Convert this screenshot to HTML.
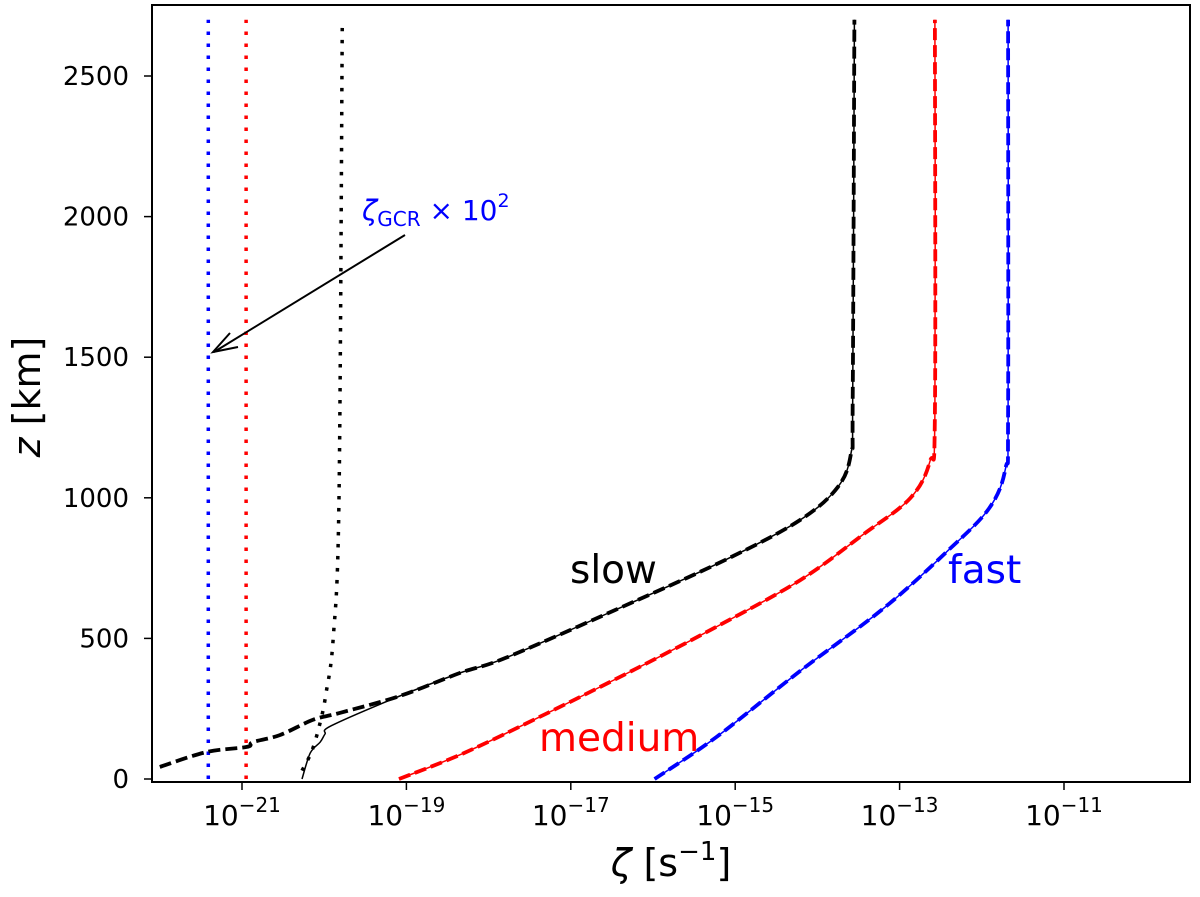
<!DOCTYPE html>
<html><head><meta charset="utf-8"><style>
html,body{margin:0;padding:0;background:#fff;}
svg{display:block;font-family:"DejaVu Sans","Liberation Sans",sans-serif;}
</style></head><body>
<svg id="chart" width="1200" height="897" viewBox="0 0 1200 897" xmlns="http://www.w3.org/2000/svg">
<g id="plot"></g>
<g id="axes"></g>
<text transform="translate(40,397) rotate(-90)" text-anchor="middle" font-size="38"><tspan font-style="italic">z</tspan> [km]</text>
<text x="671" y="876" text-anchor="middle" font-size="38"><tspan font-style="italic">ζ</tspan> [s<tspan dy="-16" font-size="26">−1</tspan><tspan dy="16">]</tspan></text>
<text x="570" y="583" font-size="39" fill="#000">slow</text>
<text x="539" y="751" font-size="39" fill="#f00">medium</text>
<text x="948" y="583" font-size="39" fill="#00f">fast</text>
<text x="362" y="220" font-size="28" fill="#00f"><tspan font-style="italic">ζ</tspan><tspan font-size="20" dy="6">GCR</tspan><tspan dy="-6"> × 10</tspan><tspan font-size="19" dy="-13">2</tspan></text>
<g stroke="#000" stroke-width="2" fill="none">
<line x1="405" y1="235" x2="214" y2="352"/>
<polyline points="230,333 213,352 238,347"/>
</g>
</svg>
<script>
const xTickExps=[-21,-19,-17,-15,-13,-11];
const yTicks=[0,500,1000,1500,2000,2500];
const slowZ=[43,96,114,131,156,210,235,295,377,431,601,779,921,1039,1160,1350,2700];
const slowLog=[-22.00,-21.43,-20.94,-20.87,-20.54,-20.14,-19.81,-19.08,-18.35,-17.79,-16.46,-15.12,-14.21,-13.75,-13.59,-13.57,-13.55];
const slowSolidZ=[0,92,131,160,190,295,377,431,601,779,921,1039,1160,1350,2700];
const slowSolidLog=[-20.27,-20.17,-20.05,-19.99,-19.91,-19.08,-18.35,-17.79,-16.46,-15.12,-14.21,-13.75,-13.59,-13.57,-13.55];
const mediumZ=[0,92,235,384,541,707,868,999,1130,1300,2700];
const mediumLog=[-19.09,-18.30,-17.28,-16.26,-15.23,-14.21,-13.45,-12.87,-12.63,-12.57,-12.57];
const fastZ=[0,149,384,608,810,963,1106,1300,2700];
const fastLog=[-15.98,-15.23,-14.21,-13.19,-12.42,-11.91,-11.71,-11.68,-11.68];
const slowGcrZ=[30,100,200,300,500,1000,2700];
const slowGcrLog=[-20.27,-20.15,-20.05,-19.98,-19.89,-19.82,-19.78];
const mediumGcrLog=[-20.95];
const fastGcrLog=[-21.41];

const L=152,R=1190,T=5,B=782;
const X=l=>242+(l+21)*82.2;
const Y=z=>779-z*0.2812;
const NS="http://www.w3.org/2000/svg";
const plot=document.getElementById('plot'),axes=document.getElementById('axes');
function mk(tag,attrs,parent){const e=document.createElementNS(NS,tag);for(const k in attrs)e.setAttribute(k,attrs[k]);parent.appendChild(e);return e;}
function smooth(pts){
  let d='M'+pts[0][0].toFixed(1)+','+pts[0][1].toFixed(1);
  for(let i=0;i<pts.length-1;i++){
    const p0=pts[Math.max(0,i-1)],p1=pts[i],p2=pts[i+1],p3=pts[Math.min(pts.length-1,i+2)];
    const c1=[p1[0]+(p2[0]-p0[0])/6,p1[1]+(p2[1]-p0[1])/6];
    const c2=[p2[0]-(p3[0]-p1[0])/6,p2[1]-(p3[1]-p1[1])/6];
    d+=' C'+c1.map(v=>v.toFixed(1)).join(',')+' '+c2.map(v=>v.toFixed(1)).join(',')+' '+p2[0].toFixed(1)+','+p2[1].toFixed(1);
  }
  return d;
}
function line(zs,ls,color,w,dash,name){
  const pts=zs.map((z,i)=>[X(ls[i]),Y(z)]);
  const p=mk('path',{d:smooth(pts),fill:'none',stroke:color,'stroke-width':w,'stroke-dasharray':dash||'none','stroke-linejoin':'round'},plot);
  
  
}
function vline(l,color,name){
  const p=mk('line',{x1:X(l),x2:X(l),y1:Y(0),y2:Y(2700),stroke:color,'stroke-width':3.5,'stroke-dasharray':'3.5 8.5'},plot);
  
  
}
vline(fastGcrLog[0],'#00f','fast-gcr-dotted');
vline(mediumGcrLog[0],'#f00','medium-gcr-dotted');
line(slowGcrZ,slowGcrLog,'#000',3.5,'3.5 8.5','slow-gcr-dotted');
line(slowSolidZ,slowSolidLog,'#000',1.5,null,'slow-solid');
line(mediumZ,mediumLog,'#f00',1.5,null,'medium-solid');
line(fastZ,fastLog,'#00f',1.5,null,'fast-solid');
line(slowZ,slowLog,'#000',3.8,'12 5','slow-dashed');
line(mediumZ,mediumLog,'#f00',3.8,'12 5','medium-dashed');
line(fastZ,fastLog,'#00f',3.8,'12 5','fast-dashed');
const fr=mk('rect',{x:L,y:T,width:R-L,height:B-T,fill:'none',stroke:'#000','stroke-width':2},axes);


xTickExps.forEach(e=>{
  const x=X(e);
  const t=mk('line',{x1:x,x2:x,y1:B,y2:B+8,stroke:'#000','stroke-width':1.5},axes);
  
  
  const tx=mk('text',{x:x,y:825,'text-anchor':'middle','font-size':28},axes);
  
  
  tx.innerHTML='10<tspan dy="-13" font-size="20">−'+Math.abs(e)+'</tspan>';
});
yTicks.forEach(z=>{
  const y=Y(z);
  const t=mk('line',{x1:L-8,x2:L,y1:y,y2:y,stroke:'#000','stroke-width':1.5},axes);
  
  
  const tx=mk('text',{x:129,y:y+9,'text-anchor':'end','font-size':26},axes);
  
  
  tx.textContent=z;
});
</script>
</body></html>
